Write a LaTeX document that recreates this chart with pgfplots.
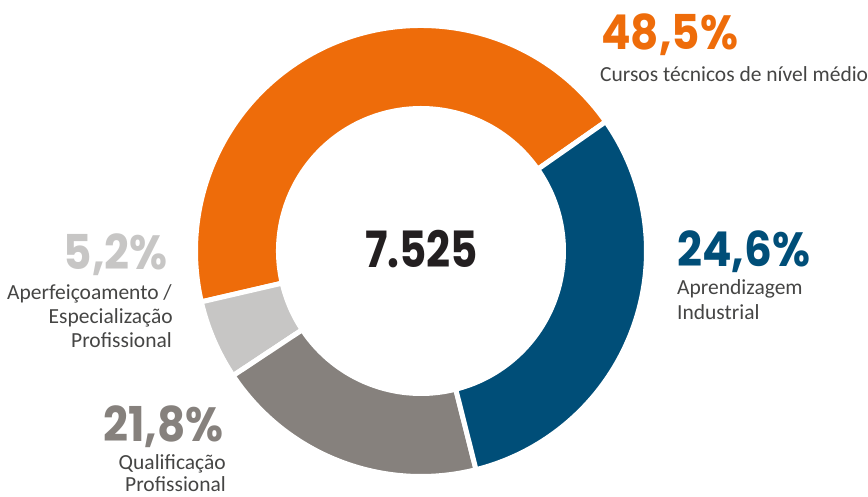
\documentclass[border=0pt]{standalone}
\usepackage{pgfplots}
\pgfplotsset{compat=1.18}
\usepackage{pgfplotstable}
\usepackage{fontspec}
\setmainfont{Carlito}
\newfontfamily\numfont{Poppins}
\definecolor{corange}{HTML}{EE6C0A}
\definecolor{cblue}{HTML}{004E78}
\definecolor{clight}{HTML}{C7C6C5}
\definecolor{cgray}{HTML}{86817D}
\definecolor{ctext}{HTML}{454544}
\definecolor{ccenter}{HTML}{231F20}
% label share (%) and drawn arc share (%) in counter-clockwise order from 35 deg
\pgfplotstableread{
name pct arc
orange 48.5 43.9
light 5.2 5.7
gray 21.8 19.6
blue 24.6 30.8
}\donut
\pgfplotstablegetelem{0}{arc}\of\donut \let\sA\pgfplotsretval
\pgfplotstablegetelem{1}{arc}\of\donut \let\sB\pgfplotsretval
\pgfplotstablegetelem{2}{arc}\of\donut \let\sC\pgfplotsretval
\pgfplotstablegetelem{3}{arc}\of\donut \let\sD\pgfplotsretval
\pgfmathsetmacro\aA{35}
\pgfmathsetmacro\aB{\aA+3.6*\sA}
\pgfmathsetmacro\aC{\aB+3.6*\sB}
\pgfmathsetmacro\aD{\aC+3.6*\sC}
\pgfmathsetmacro\aE{\aD+3.6*\sD}
\def\cx{421}\def\cy{246}
\def\Ro{225.5pt}\def\Ri{142.5pt}
\newcommand\sector[3]{%
  \fill[#3, draw=white, line width=5pt]
    ([shift={(#1:\Ro)}]axis cs:\cx,\cy) arc[start angle=#1, end angle=#2, radius=\Ro]
    -- ([shift={(#2:\Ri)}]axis cs:\cx,\cy) arc[start angle=#2, end angle=#1, radius=\Ri] -- cycle;}
\newcommand\bignum[1]{\scalebox{0.91}[1]{\numfont\bfseries\fontsize{48}{48}\selectfont #1}}
\newcommand\lab[1]{\fontsize{21.5}{21.5}\selectfont #1}
\begin{document}
\begin{tikzpicture}
\useasboundingbox (0,0) rectangle (868pt,497pt);
\begin{axis}[at={(0,0)}, anchor=origin, scale only axis, width=868pt, height=497pt,
  xmin=0, xmax=868, ymin=0, ymax=497, hide axis, clip=false]
\sector{\aA}{\aB}{corange}
\sector{\aB}{\aC}{clight}
\sector{\aC}{\aD}{cgray}
\sector{\aD}{\aE}{cblue}
\node[anchor=base, inner sep=0, text=ccenter] at (axis cs:421.5,229) {\scalebox{0.84}[1]{\numfont\bfseries\fontsize{50}{50}\selectfont 7.525}};
% labels
\node[anchor=base west, inner sep=0, text=corange] at (axis cs:601,447) {\bignum{48,5\%}};
\node[anchor=base west, inner sep=0, text=ctext] at (axis cs:600,415) {\lab{Cursos técnicos de nível médio}};
\node[anchor=base west, inner sep=0, text=cblue] at (axis cs:677,230) {\bignum{24,6\%}};
\node[anchor=base west, inner sep=0, text=ctext] at (axis cs:677,202) {\lab{Aprendizagem}};
\node[anchor=base west, inner sep=0, text=ctext] at (axis cs:677,177) {\lab{Industrial}};
\node[anchor=base east, inner sep=0, text=clight] at (axis cs:168,227) {\bignum{5,2\%}};
\node[anchor=base east, inner sep=0, text=ctext] at (axis cs:172,197) {\lab{Aperfeiçoamento /}};
\node[anchor=base east, inner sep=0, text=ctext] at (axis cs:173,173) {\lab{Especialização}};
\node[anchor=base east, inner sep=0, text=ctext] at (axis cs:172,149) {\lab{Profissional}};
\node[anchor=base east, inner sep=0, text=cgray] at (axis cs:224,55) {\bignum{21,8\%}};
\node[anchor=base east, inner sep=0, text=ctext] at (axis cs:226,27) {\lab{Qualificação}};
\node[anchor=base east, inner sep=0, text=ctext] at (axis cs:226,5) {\lab{Profissional}};
\end{axis}
\end{tikzpicture}
\end{document}
